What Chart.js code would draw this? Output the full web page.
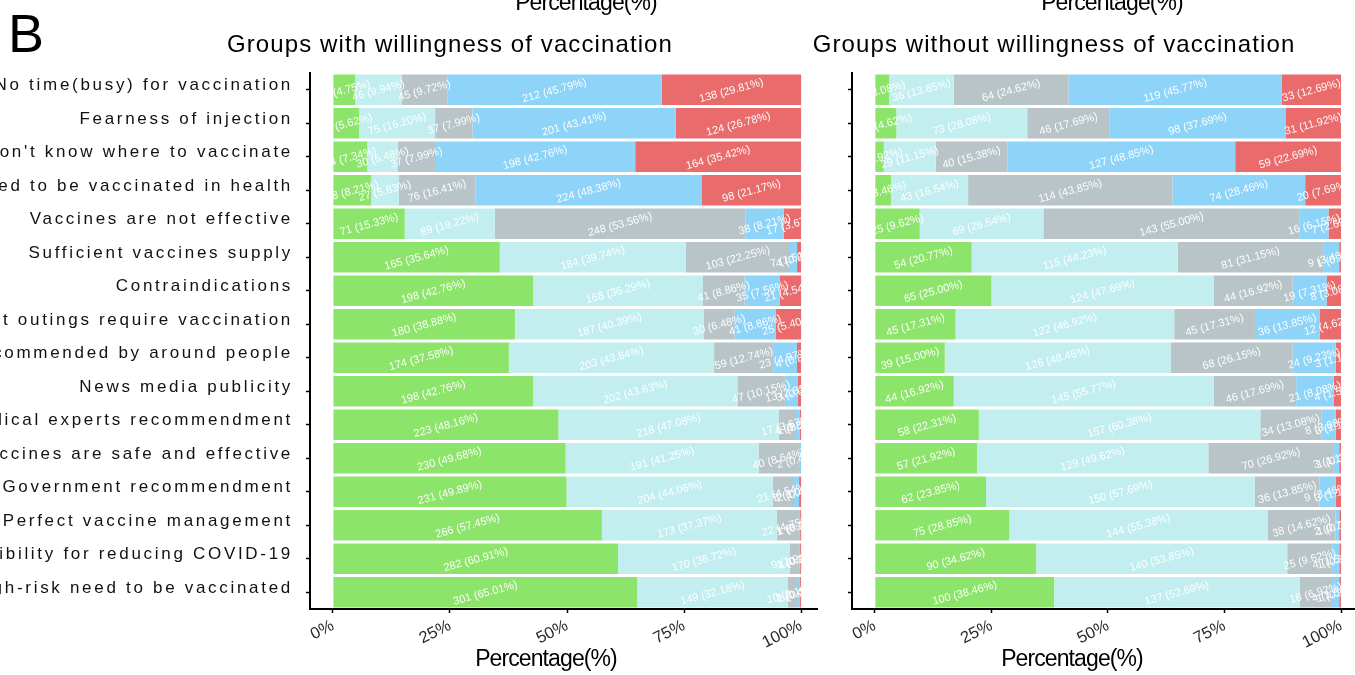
<!DOCTYPE html>
<html>
<head>
<meta charset="utf-8">
<script src="https://cdn.jsdelivr.net/npm/chart.js@4.4.1/dist/chart.umd.min.js"></script>
<style>
  html, body { margin:0; padding:0; background:#fff; overflow:hidden; width:1355px; height:675px; }
  canvas { position:absolute; left:0; top:0; }
</style>
</head>
<body>
<canvas id="cWith" width="1355" height="675"></canvas>
<canvas id="cWithout" width="1355" height="675"></canvas>
<script>
// ---------------- DATA ----------------
const categories = [
  "No time(busy) for vaccination",
  "Fearness of injection",
  "Don't know where to vaccinate",
  "No need to be vaccinated in health",
  "Vaccines are not effective",
  "Sufficient vaccines supply",
  "Contraindications",
  "Most outings require vaccination",
  "Recommended by around people",
  "News media publicity",
  "Medical experts recommendment",
  "Vaccines are safe and effective",
  "Government recommendment",
  "Perfect vaccine management",
  "Responsibility for reducing COVID-19",
  "High-risk need to be vaccinated"
];
const seriesNames = ["Strongly agree", "Agree", "Neutral", "Disagree", "Strongly disagree"];
const seriesColors = ["#8de46a", "#c2eeef", "#b8c4c7", "#8ed3f8", "#ea6b6c"];
const xTickValues = [0, 25, 50, 75, 100];

// Groups with willingness of vaccination (n = 463): counts
const withStronglyAgree    = [22, 26, 34, 38, 71, 165, 198, 180, 174, 198, 223, 230, 231, 266, 282, 301];
const withAgree            = [46, 75, 30, 27, 89, 184, 168, 187, 203, 202, 218, 191, 204, 173, 170, 149];
const withNeutral          = [45, 37, 37, 76, 248, 103, 41, 30, 59, 47, 17, 40, 21, 22, 9, 10];
const withDisagree         = [212, 201, 198, 224, 38, 7, 35, 41, 23, 13, 4, 2, 5, 1, 1, 2];
const withStronglyDisagree = [138, 124, 164, 98, 17, 4, 21, 25, 4, 3, 1, 0, 2, 1, 1, 1];
// percentages
const withStronglyAgreePct    = [4.75, 5.62, 7.34, 8.21, 15.33, 35.64, 42.76, 38.88, 37.58, 42.76, 48.16, 49.68, 49.89, 57.45, 60.91, 65.01];
const withAgreePct            = [9.94, 16.20, 6.48, 5.83, 19.22, 39.74, 36.29, 40.39, 43.84, 43.63, 47.08, 41.25, 44.06, 37.37, 36.72, 32.18];
const withNeutralPct          = [9.72, 7.99, 7.99, 16.41, 53.56, 22.25, 8.86, 6.48, 12.74, 10.15, 3.67, 8.64, 4.54, 4.75, 1.94, 2.16];
const withDisagreePct         = [45.79, 43.41, 42.76, 48.38, 8.21, 1.51, 7.56, 8.86, 4.97, 2.81, 0.86, 0.43, 1.08, 0.22, 0.22, 0.43];
const withStronglyDisagreePct = [29.81, 26.78, 35.42, 21.17, 3.67, 0.86, 4.54, 5.40, 0.86, 0.65, 0.22, 0, 0.43, 0.22, 0.22, 0.22];

// Groups without willingness of vaccination (n = 260): counts
const withoutStronglyAgree    = [8, 12, 5, 9, 25, 54, 65, 45, 39, 44, 58, 57, 62, 75, 90, 100];
const withoutAgree            = [36, 73, 29, 43, 69, 115, 124, 122, 126, 145, 157, 129, 150, 144, 140, 137];
const withoutNeutral          = [64, 46, 40, 114, 143, 81, 44, 45, 68, 46, 34, 70, 36, 38, 25, 18];
const withoutDisagree         = [119, 98, 127, 74, 16, 9, 19, 36, 24, 21, 8, 3, 9, 2, 4, 4];
const withoutStronglyDisagree = [33, 31, 59, 20, 7, 1, 8, 12, 3, 4, 3, 1, 3, 1, 1, 1];
// percentages
const withoutStronglyAgreePct    = [3.08, 4.62, 1.92, 3.46, 9.62, 20.77, 25.00, 17.31, 15.00, 16.92, 22.31, 21.92, 23.85, 28.85, 34.62, 38.46];
const withoutAgreePct            = [13.85, 28.08, 11.15, 16.54, 26.54, 44.23, 47.69, 46.92, 48.46, 55.77, 60.38, 49.62, 57.69, 55.38, 53.85, 52.69];
const withoutNeutralPct          = [24.62, 17.69, 15.38, 43.85, 55.00, 31.15, 16.92, 17.31, 26.15, 17.69, 13.08, 26.92, 13.85, 14.62, 9.62, 6.92];
const withoutDisagreePct         = [45.77, 37.69, 48.85, 28.46, 6.15, 3.46, 7.31, 13.85, 9.23, 8.08, 3.08, 1.15, 3.46, 0.77, 1.54, 1.54];
const withoutStronglyDisagreePct = [12.69, 11.92, 22.69, 7.69, 2.69, 0.38, 3.08, 4.62, 1.15, 1.54, 1.15, 0.38, 1.15, 0.38, 0.38, 0.38];

// ---------------- PLUGINS ----------------
const FONT = "'Liberation Sans', Arial, sans-serif";

const spacedYLabels = {
  id: 'spacedYLabels',
  beforeDraw(chart, args, opts) {
    const s = chart.scales.y;
    if (s && !s._spaced) {
      const orig = s.drawLabels;
      s.drawLabels = function (area) {
        const c = this.ctx; c.save(); c.letterSpacing = (opts.spacing || 0) + 'px';
        orig.call(this, area); c.restore();
      };
      s._spaced = true;
    }
  }
};

const segmentLabels = {
  id: 'segmentLabels',
  afterDatasetsDraw(chart) {
    const ctx = chart.ctx, xs = chart.scales.x;
    const x0 = xs.getPixelForValue(0), x1 = xs.getPixelForValue(100);
    ctx.save();
    ctx.beginPath(); ctx.rect(x0, 0, x1 - x0, chart.height); ctx.clip();
    ctx.font = "11px " + FONT;
    ctx.fillStyle = 'rgba(255,255,255,0.97)';
    ctx.textAlign = 'center'; ctx.textBaseline = 'middle';
    chart.data.datasets.forEach((ds, i) => {
      const meta = chart.getDatasetMeta(i);
      meta.data.forEach((el, j) => {
        const n = ds.counts[j];
        if (!n) return;
        const txt = n + ' (' + ds.data[j].toFixed(2) + '%)';
        ctx.save();
        ctx.translate((el.x + el.base) / 2, el.y + 1);
        ctx.rotate(-15 * Math.PI / 180);
        ctx.fillText(txt, 0, 0);
        ctx.restore();
      });
    });
    ctx.restore();
  }
};

const staticText = {
  id: 'staticText',
  afterDraw(chart, args, opts) {
    const ctx = chart.ctx;
    (opts.items || []).forEach(it => {
      ctx.save();
      ctx.font = it.font; ctx.fillStyle = it.color || '#000';
      ctx.textAlign = it.align || 'center'; ctx.textBaseline = 'alphabetic';
      ctx.letterSpacing = (it.spacing || 0) + 'px';
      ctx.fillText(it.text, it.x, it.y);
      ctx.restore();
    });
  }
};

// ---------------- CHART FACTORY ----------------
function makeChart(id, counts, pcts, cfg) {
  const datasets = seriesNames.map((name, i) => ({
    label: name,
    data: pcts[i],
    counts: counts[i],
    backgroundColor: seriesColors[i],
    borderWidth: 0,
    categoryPercentage: 0.91,
    barPercentage: 1.0
  }));
  return new Chart(document.getElementById(id), {
    type: 'bar',
    data: { labels: categories, datasets },
    plugins: [spacedYLabels, segmentLabels, staticText],
    options: {
      indexAxis: 'y',
      responsive: false,
      animation: false,
      devicePixelRatio: 1,
      layout: { padding: cfg.padding },
      plugins: {
        legend: { display: false },
        tooltip: { enabled: false },
        spacedYLabels: { spacing: 2.7 },
        staticText: { items: cfg.texts }
      },
      scales: {
        x: {
          stacked: true,
          min: -4.9,
          max: cfg.xmax,
          afterBuildTicks: s => { s.ticks = xTickValues.map(v => ({ value: v })); },
          afterFit: s => { s.height = 40; },
          grid: { display: true, drawOnChartArea: false, drawTicks: true, tickLength: 4, tickColor: '#000', tickWidth: 1.5 },
          border: { display: true, color: '#000', width: 2 },
          ticks: {
            minRotation: 27, maxRotation: 27, padding: 3,
            color: '#2a2a2a', font: { family: FONT, size: 16.5 },
            callback: v => v + '%'
          }
        },
        y: {
          stacked: true,
          afterFit: s => { s.width = cfg.yWidth; },
          grid: { display: true, offset: false, drawOnChartArea: false, drawTicks: true, tickLength: 4, tickColor: '#000', tickWidth: 1.5 },
          border: { display: true, color: '#000', width: 2 },
          ticks: {
            display: cfg.showLabels,
            padding: 13, labelOffset: -4,
            color: '#111', font: { family: FONT, size: 17 }
          }
        }
      }
    }
  });
}

makeChart('cWith',
  [withStronglyAgree, withAgree, withNeutral, withDisagree, withStronglyDisagree],
  [withStronglyAgreePct, withAgreePct, withNeutralPct, withDisagreePct, withStronglyDisagreePct],
  {
    padding: { left: 0, right: 538, top: 73, bottom: 26 },
    yWidth: 310, xmax: 103.4, showLabels: true,
    texts: [
      { text: 'B', x: 8, y: 52, align: 'left', font: '54px ' + FONT },
      { text: 'Percentage(%)', x: 586, y: 10, font: '23px ' + FONT, spacing: -0.9 },
      { text: 'Groups with willingness of vaccination', x: 450, y: 52, font: '24px ' + FONT, spacing: 1.1 },
      { text: 'Percentage(%)', x: 546, y: 666, font: '23px ' + FONT, spacing: -0.9 }
    ]
  });

makeChart('cWithout',
  [withoutStronglyAgree, withoutAgree, withoutNeutral, withoutDisagree, withoutStronglyDisagree],
  [withoutStronglyAgreePct, withoutAgreePct, withoutNeutralPct, withoutDisagreePct, withoutStronglyDisagreePct],
  {
    padding: { left: 830, right: 0, top: 73, bottom: 26 },
    yWidth: 22, xmax: 103.0, showLabels: false,
    texts: [
      { text: 'Percentage(%)', x: 1112, y: 10, font: '23px ' + FONT, spacing: -0.9 },
      { text: 'Groups without willingness of vaccination', x: 1054, y: 52, font: '24px ' + FONT, spacing: 1.1 },
      { text: 'Percentage(%)', x: 1072, y: 666, font: '23px ' + FONT, spacing: -0.9 }
    ]
  });
</script>
</body>
</html>
